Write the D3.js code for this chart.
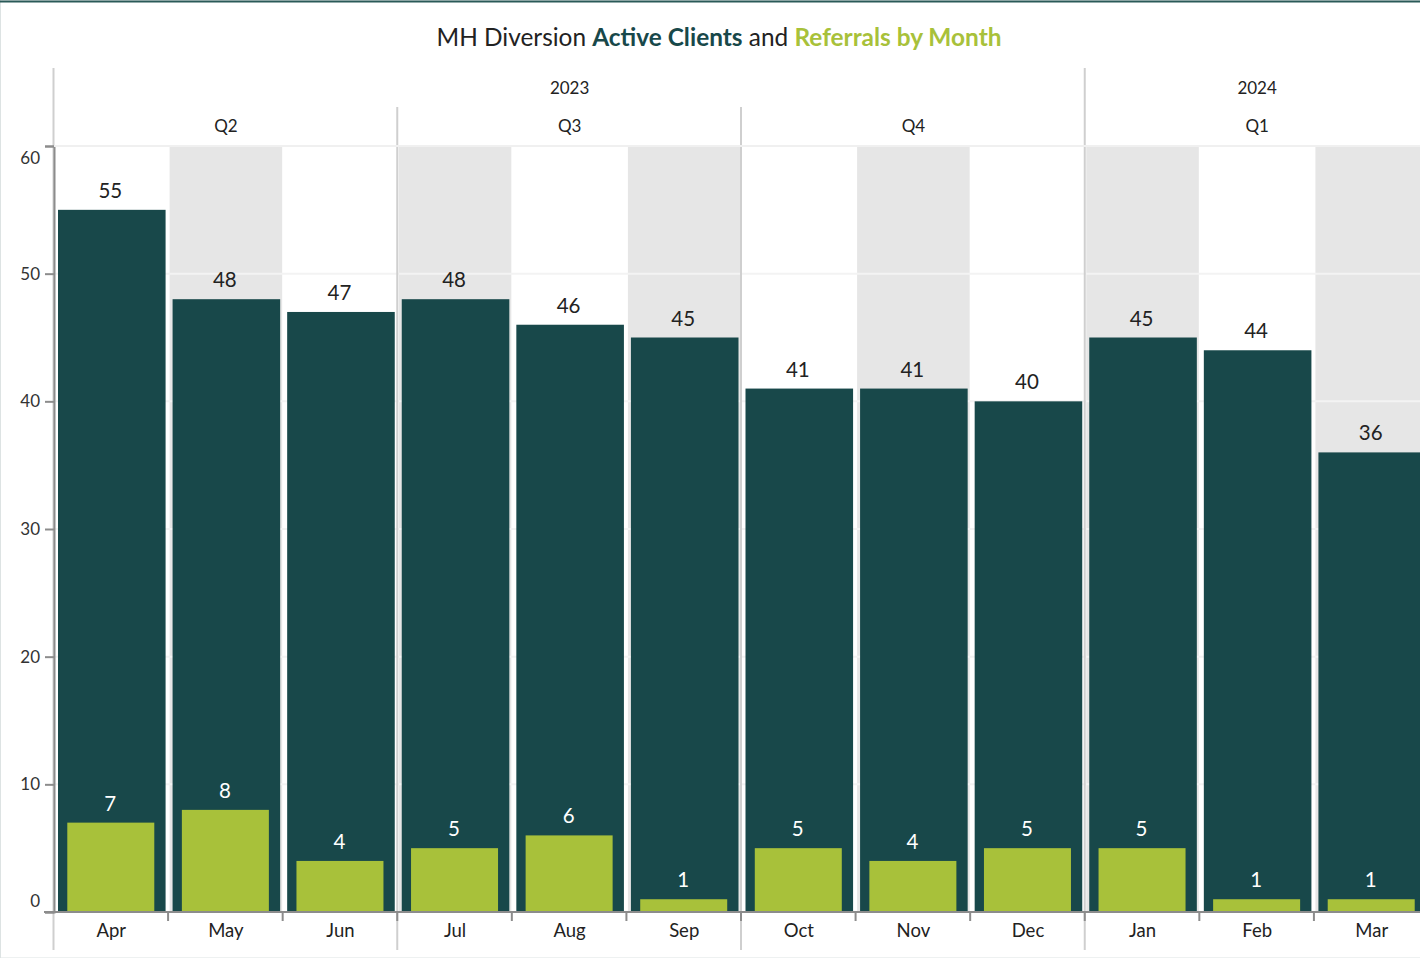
<!DOCTYPE html>
<html>
<head>
<meta charset="utf-8">
<script src="https://cdn.jsdelivr.net/npm/d3@7"></script>
<style>
  body { margin: 0; background: #fff; overflow: hidden; }
  svg { display: block; font-family: Lato, "Noto Sans", sans-serif; }
</style>
</head>
<body>
<svg width="1420" height="958"></svg>
<script>
const months = ['Apr', 'May', 'Jun', 'Jul', 'Aug', 'Sep', 'Oct', 'Nov', 'Dec', 'Jan', 'Feb', 'Mar'];
const quarterOf = ['Q2', 'Q2', 'Q2', 'Q3', 'Q3', 'Q3', 'Q4', 'Q4', 'Q4', 'Q1', 'Q1', 'Q1'];
const yearOf = ['2023', '2023', '2023', '2023', '2023', '2023', '2023', '2023', '2023', '2024', '2024', '2024'];
const activeClients = [55, 48, 47, 48, 46, 45, 41, 41, 40, 45, 44, 36];
const referrals = [7, 8, 4, 5, 6, 1, 5, 4, 5, 5, 1, 1];
const yTicks = [0, 10, 20, 30, 40, 50, 60];

const svg = d3.select('svg');
const width = +svg.attr('width');
const height = +svg.attr('height');

const darkGreen = '#18484a';
const lightGreen = '#a8c13a';

// frame
svg.append('rect').attr('x', 0.5).attr('y', 0).attr('width', width).attr('height', height)
  .attr('fill', 'none').attr('stroke', '#dde3e3');
svg.append('line').attr('x1', 0).attr('x2', width).attr('y1', 1.5).attr('y2', 1.5)
  .attr('stroke', '#2a5a58').attr('stroke-width', 2);

const x = d3.scaleBand().domain(months).range([54, 1429]);
const y = d3.scaleLinear().domain([0, 60]).range([912, 146]);

// title
const title = svg.append('text')
  .attr('x', 719).attr('y', 46)
  .attr('text-anchor', 'middle')
  .attr('font-size', 24.4)
  .attr('fill', '#222');
title.append('tspan').text('MH Diversion ');
title.append('tspan').attr('font-weight', 'bold').attr('fill', darkGreen).text('Active Clients');
title.append('tspan').text(' and ');
title.append('tspan').attr('font-weight', 'bold').attr('fill', lightGreen).text('Referrals by Month');

// background bands
svg.append('g').selectAll('rect').data(months).join('rect')
  .attr('x', d => x(d) + 1)
  .attr('y', y(60))
  .attr('width', x.bandwidth() - 2)
  .attr('height', y(0) - y(60))
  .attr('fill', (d, i) => i % 2 ? '#e6e6e6' : '#fff');

// grid
svg.append('g').selectAll('line').data(yTicks).join('line')
  .attr('x1', 54).attr('x2', 1429)
  .attr('y1', d => y(d)).attr('y2', d => y(d))
  .attr('stroke', '#f3f3f3').attr('stroke-width', 2);

// group separators (quarters / years)
const qStarts = months.filter((m, i) => i === 0 || quarterOf[i] !== quarterOf[i - 1]);
const yStarts = months.filter((m, i) => i === 0 || yearOf[i] !== yearOf[i - 1]);
const sep = svg.append('g').attr('stroke', '#cfcfcf').attr('stroke-width', 2);
sep.selectAll('.q').data(qStarts).join('line')
  .attr('x1', d => x(d) - 0.5).attr('x2', d => x(d) - 0.5)
  .attr('y1', d => yStarts.includes(d) ? 68 : 107)
  .attr('y2', 950);

// bars
svg.append('g').selectAll('rect').data(activeClients).join('rect')
  .attr('x', (d, i) => x(months[i]) + 4)
  .attr('y', d => y(d))
  .attr('width', x.bandwidth() - 7)
  .attr('height', d => y(0) - y(d))
  .attr('fill', darkGreen);

const gw = 87;
svg.append('g').selectAll('rect').data(referrals).join('rect')
  .attr('x', (d, i) => x(months[i]) + x.bandwidth() / 2 - gw / 2 - 0.5)
  .attr('y', d => y(d))
  .attr('width', gw)
  .attr('height', d => y(0) - y(d))
  .attr('fill', lightGreen);

// value labels
svg.append('g').selectAll('text').data(activeClients).join('text')
  .attr('x', (d, i) => x(months[i]) + x.bandwidth() / 2 - 1)
  .attr('y', d => y(d) - 12)
  .attr('text-anchor', 'middle')
  .attr('font-size', 20.5)
  .attr('fill', '#222')
  .text(d => d);

svg.append('g').selectAll('text').data(referrals).join('text')
  .attr('x', (d, i) => x(months[i]) + x.bandwidth() / 2 - 1)
  .attr('y', d => y(d) - 12)
  .attr('text-anchor', 'middle')
  .attr('font-size', 20.5)
  .attr('fill', '#fff')
  .text(d => d);

// y axis
const yAxis = svg.append('g')
  .attr('transform', 'translate(54,0)')
  .call(d3.axisLeft(y).tickValues(yTicks).tickSize(9).tickPadding(5));
yAxis.select('.domain').attr('stroke', '#8c8c8c').attr('stroke-width', 2);
yAxis.selectAll('.tick line').attr('stroke', '#8c8c8c').attr('stroke-width', 2);
yAxis.selectAll('.tick text')
  .attr('font-size', 17).attr('fill', '#333').attr('font-family', 'Lato, sans-serif')
  .attr('dy', d => d === 60 ? '1.0em' : d === 0 ? '-0.35em' : '0.32em');

// x axis line and month ticks
svg.append('line').attr('x1', 44).attr('x2', 1429).attr('y1', y(0)).attr('y2', y(0))
  .attr('stroke', '#8c8c8c').attr('stroke-width', 2);
svg.append('g').selectAll('line').data(months.slice(1)).join('line')
  .attr('x1', d => x(d) - 0.5).attr('x2', d => x(d) - 0.5)
  .attr('y1', y(0)).attr('y2', y(0) + 9)
  .attr('stroke', '#8c8c8c').attr('stroke-width', 2);

svg.append('g').selectAll('text').data(months).join('text')
  .attr('x', d => x(d) + x.bandwidth() / 2)
  .attr('y', 937)
  .attr('text-anchor', 'middle')
  .attr('font-size', 18.5)
  .attr('fill', '#222')
  .text(d => d);

// header labels
const qLabels = qStarts.map(s => {
  const idx = months.indexOf(s);
  const members = months.filter((m, i) => quarterOf[i] === quarterOf[idx] && yearOf[i] === yearOf[idx]);
  return { label: quarterOf[idx], x0: x(members[0]), x1: x(members[members.length - 1]) + x.bandwidth() };
});
svg.append('g').selectAll('text').data(qLabels).join('text')
  .attr('x', d => (d.x0 + d.x1) / 2)
  .attr('y', 132)
  .attr('text-anchor', 'middle')
  .attr('font-size', 17)
  .attr('fill', '#222')
  .text(d => d.label);

const yLabels = yStarts.map(s => {
  const idx = months.indexOf(s);
  const members = months.filter((m, i) => yearOf[i] === yearOf[idx]);
  return { label: yearOf[idx], x0: x(members[0]), x1: x(members[members.length - 1]) + x.bandwidth() };
});
svg.append('g').selectAll('text').data(yLabels).join('text')
  .attr('x', d => (d.x0 + d.x1) / 2)
  .attr('y', 94)
  .attr('text-anchor', 'middle')
  .attr('font-size', 17)
  .attr('fill', '#222')
  .text(d => d.label);

// top edge of plot
svg.append('line').attr('x1', 54).attr('x2', 1429).attr('y1', y(60)).attr('y2', y(60))
  .attr('stroke', '#f0f0f0').attr('stroke-width', 2);
</script>
</body>
</html>
